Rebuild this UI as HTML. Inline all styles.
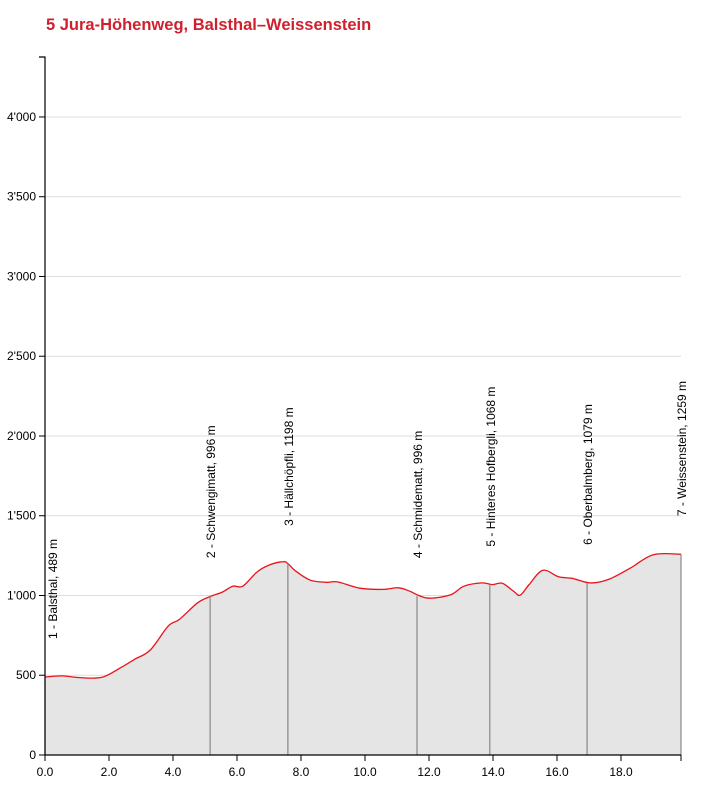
<!DOCTYPE html>
<html><head><meta charset="utf-8"><style>
body{margin:0;background:#fff;width:703px;height:789px;overflow:hidden}
text{font-family:"Liberation Sans",Arial,sans-serif}
</style></head><body>
<svg id="chart" width="703" height="789" xmlns="http://www.w3.org/2000/svg">
<text x="46" y="30" fill="#d0202e" font-size="16.5" font-weight="bold">5 Jura-Höhenweg, Balsthal–Weissenstein</text>
<g id="grid"></g><g id="area"></g><g id="wp"></g><g id="axes"></g>
</svg>
<script>
const distKm=[0,0.54,1.1,1.78,2.37,2.8,3.29,3.85,4.2,4.77,5.19,5.54,5.87,6.18,6.63,7.02,7.45,7.6,7.84,8.29,8.79,9.14,9.84,10.55,11.04,11.4,11.68,12.03,12.67,13.09,13.65,13.98,14.29,14.64,14.85,15.13,15.56,16.05,16.47,17.04,17.6,18.3,19.01,19.875];
const elevM=[489,496,485,487,548,600,658,808,850,954,996,1021,1058,1058,1148,1192,1212,1198,1152,1096,1083,1085,1046,1038,1048,1027,1000,983,1004,1058,1079,1068,1077,1027,1002,1069,1158,1117,1108,1079,1100,1173,1256,1259];
const wpNames=["1 - Balsthal, 489 m","2 - Schwengimatt, 996 m","3 - Hällchöpfli, 1198 m","4 - Schmidematt, 996 m","5 - Hinteres Hofbergli, 1068 m","6 - Oberbalmberg, 1079 m","7 - Weissenstein, 1259 m"];
const wpKm=[0,5.16,7.59,11.625,13.9,16.94,19.875];
const wpElev=[489,996,1198,996,1068,1079,1259];
const yTicks=[0,500,1000,1500,2000,2500,3000,3500,4000];
const yTickLabels=["0","500","1'000","1'500","2'000","2'500","3'000","3'500","4'000"];
const xTicks=[0,2,4,6,8,10,12,14,16,18];
const xTickLabels=["0.0","2.0","4.0","6.0","8.0","10.0","12.0","14.0","16.0","18.0"];
const X0=45,X1=681,KMAX=19.875,Y0=755,YTOP=57,EMAX=4376;
const xs=d=>X0+d/KMAX*(X1-X0);
const ys=e=>Y0-e/EMAX*(Y0-YTOP);
const NS="http://www.w3.org/2000/svg";
function mk(p,tag,at){const e=document.createElementNS(NS,tag);for(const k in at)e.setAttribute(k,at[k]);p.appendChild(e);return e;}
const grid=document.getElementById('grid'),area=document.getElementById('area'),wp=document.getElementById('wp'),axes=document.getElementById('axes');
yTicks.forEach((v,i)=>{
 if(v>0){const g=mk(grid,'line',{x1:X0,x2:X1,y1:ys(v),y2:ys(v),stroke:'#ddd','stroke-width':1});
 
 }
 const t=mk(axes,'line',{x1:39,x2:X0,y1:ys(v),y2:ys(v),stroke:'#000'});
 
 
 const l=mk(axes,'text',{x:36,y:ys(v)+4,'text-anchor':'end','font-size':12,fill:'#000'});
 l.textContent=yTickLabels[i];
 
 
});
const P=distKm.map((d,i)=>[xs(d),ys(elevM[i])]);
function smooth(P){let s='M'+P[0][0].toFixed(1)+','+P[0][1].toFixed(1);
 for(let i=0;i<P.length-1;i++){const p0=P[Math.max(0,i-1)],p1=P[i],p2=P[i+1],p3=P[Math.min(P.length-1,i+2)];
  const c1=[p1[0]+(p2[0]-p0[0])/6,p1[1]+(p2[1]-p0[1])/6],c2=[p2[0]-(p3[0]-p1[0])/6,p2[1]-(p3[1]-p1[1])/6];
  s+='C'+c1.map(v=>v.toFixed(1))+' '+c2.map(v=>v.toFixed(1))+' '+p2[0].toFixed(1)+','+p2[1].toFixed(1);}
 return s;}
const curve=smooth(P);
const poly=mk(area,'path',{d:'M'+xs(0)+','+Y0+'L'+curve.slice(1)+'L'+xs(distKm[distKm.length-1])+','+Y0+'Z',fill:'#e5e5e5'});


wpKm.forEach((d,i)=>{
 const ln=mk(wp,'line',{x1:xs(d),x2:xs(d),y1:ys(wpElev[i]),y2:Y0,stroke:'#888','stroke-width':1.2});
 
 
 const tx=xs(d)+(i==0?12:5),ty=ys(wpElev[i])-38;
 const t=mk(wp,'text',{x:tx,y:ty,transform:'rotate(-90 '+tx+' '+ty+')','font-size':12,fill:'#000'});
 t.textContent=wpNames[i];
 
 
});
const pl=mk(area,'path',{d:curve,fill:'none',stroke:'#e8141c','stroke-width':1.3});


const ya=mk(axes,'path',{d:'M39,'+YTOP+'H'+X0+'V'+Y0,fill:'none',stroke:'#000','stroke-width':1.2});


const xa=mk(axes,'line',{x1:X0,x2:X1,y1:Y0,y2:Y0,stroke:'#000','stroke-width':1.2});


xTicks.concat([KMAX]).forEach(v=>{
 const t=mk(axes,'line',{x1:xs(v),x2:xs(v),y1:Y0,y2:Y0+6,stroke:'#000'});
 
 
});
xTicks.forEach((v,i)=>{
 const l=mk(axes,'text',{x:xs(v),y:776,'text-anchor':'middle','font-size':12,fill:'#000'});
 l.textContent=xTickLabels[i];
 
 
});
</script>
</body></html>
